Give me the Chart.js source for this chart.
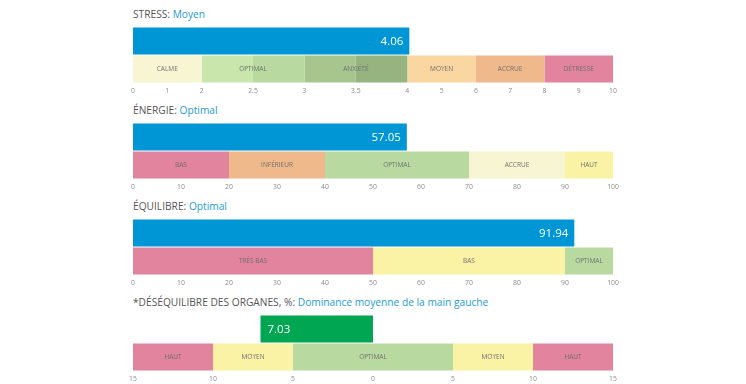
<!DOCTYPE html>
<html>
<head>
<meta charset="utf-8">
<script src="https://cdn.jsdelivr.net/npm/chart.js@4"></script>
<style>
body { margin: 0; background: #fff; font-family: 'Open Sans', sans-serif; }
.panel { position: absolute; left: 0; width: 746px; height: 96px; }
.title { position: absolute; left: 133px; top: 6px; font-size: 10.2px; line-height: 16px; color: #555; white-space: nowrap; }
.title span { color: #1d9ad6; }
canvas { position: absolute; left: 0; top: 22px; }
</style>
</head>
<body>
<div class="panel" style="top:0px"><div class="title">STRESS: <span>Moyen</span></div><canvas id="stress" width="746" height="74"></canvas></div>
<div class="panel" style="top:96px"><div class="title">ÉNERGIE: <span>Optimal</span></div><canvas id="energy" width="746" height="74"></canvas></div>
<div class="panel" style="top:192px"><div class="title">ÉQUILIBRE: <span>Optimal</span></div><canvas id="balance" width="746" height="74"></canvas></div>
<div class="panel" style="top:288px"><div class="title">*DÉSÉQUILIBRE DES ORGANES, %: <span>Dominance moyenne de la main gauche</span></div><canvas id="organs" width="746" height="74"></canvas></div>
<script>
const PINK = '#e2849d';
const PEACH = '#f0b98b';
const GREEN = '#b8d9a0';
const CREAM = '#f8f6d2';
const YELLOW = '#faf3a6';

// stress
const stressValue = 4.06;
const stressTicks = [0, 1, 2, 2.5, 3, 3.5, 4, 5, 6, 7, 8, 9, 10];
const stressZones = ['CALME', 'OPTIMAL', 'ANXIÉTÉ', 'MOYEN', 'ACCRUE', 'DÉTRESSE'];
const stressZoneEdges = [0, 2, 3, 4, 6, 8, 10];
const stressFillEdges = [0, 2, 2.5, 3, 3.5, 4, 6, 8, 10];
const stressFillColors = [CREAM, '#c9e6ad', GREEN, '#a7c68e', '#95b47f', '#fad7a1', PEACH, PINK];

// energie
const energyValue = 57.05;
const energyTicks = [0, 10, 20, 30, 40, 50, 60, 70, 80, 90, 100];
const energyZones = ['BAS', 'INFÉRIEUR', 'OPTIMAL', 'ACCRUE', 'HAUT'];
const energyZoneEdges = [0, 20, 40, 70, 90, 100];
const energyColors = [PINK, PEACH, GREEN, CREAM, YELLOW];

// equilibre
const balanceValue = 91.94;
const balanceTicks = [0, 10, 20, 30, 40, 50, 60, 70, 80, 90, 100];
const balanceZones = ['TRÈS BAS', 'BAS', 'OPTIMAL'];
const balanceZoneEdges = [0, 50, 90, 100];
const balanceColors = [PINK, YELLOW, GREEN];

// desequilibre des organes (negatif = main gauche)
const organValue = -7.03;
const organTicks = [-15, -10, -5, 0, 5, 10, 15];
const organZones = ['HAUT', 'MOYEN', 'OPTIMAL', 'MOYEN', 'HAUT'];
const organZoneEdges = [-15, -10, -5, 5, 10, 15];
const organColors = [PINK, YELLOW, GREEN, YELLOW, PINK];

// stress axis is stretched between 2 and 4
function stressPos(v) {
	if (v <= 2) return v;
	if (v <= 4) return 2 + (v - 2) * 3;
	return 8 + (v - 4);
}
const same = v => v;

function makeChart(id, cfg) {
	const pos = cfg.pos || same;
	const fillEdges = cfg.fillEdges || cfg.zoneEdges;
	const datasets = [{
		data: [[pos(Math.min(0, cfg.value)), pos(Math.max(0, cfg.value))], null],
		backgroundColor: cfg.barColor
	}];
	cfg.colors.forEach((color, i) => {
		datasets.push({
			data: [null, [pos(fillEdges[i]), pos(fillEdges[i + 1])]],
			backgroundColor: color
		});
	});

	const labelPlugin = {
		id: 'zoneLabels',
		afterDatasetsDraw(chart) {
			const ctx = chart.ctx;
			const x = chart.scales.x;
			const band = chart.getDatasetMeta(1).data[1];
			const bar = chart.getDatasetMeta(0).data[0];
			ctx.save();
			ctx.font = '6.5px "Open Sans"';
			ctx.fillStyle = '#6f6f6f';
			ctx.textAlign = 'center';
			ctx.textBaseline = 'middle';
			cfg.zones.forEach((z, i) => {
				const mid = (pos(cfg.zoneEdges[i]) + pos(cfg.zoneEdges[i + 1])) / 2;
				ctx.fillText(z, x.getPixelForValue(mid), band.y);
			});
			ctx.font = '11.5px "Open Sans"';
			ctx.fillStyle = '#fff';
			const text = Math.abs(cfg.value).toFixed(2);
			if (cfg.value < 0) {
				ctx.textAlign = 'left';
				ctx.fillText(text, x.getPixelForValue(pos(cfg.value)) + 7, bar.y + 1);
			} else {
				ctx.textAlign = 'right';
				ctx.fillText(text, x.getPixelForValue(pos(cfg.value)) - 6, bar.y + 1);
			}
			ctx.restore();
		}
	};

	return new Chart(document.getElementById(id), {
		type: 'bar',
		data: { labels: ['valeur', 'zones'], datasets: datasets },
		options: {
			indexAxis: 'y',
			responsive: false,
			animation: false,
			devicePixelRatio: 1,
			layout: { padding: { left: 133, right: 133, top: 5, bottom: 0 } },
			datasets: { bar: { grouped: false, barPercentage: 0.97, categoryPercentage: 1, borderWidth: 0 } },
			plugins: { legend: { display: false }, tooltip: { enabled: false } },
			scales: {
				y: { display: false },
				x: {
					type: 'linear',
					min: pos(cfg.ticks[0]),
					max: pos(cfg.ticks[cfg.ticks.length - 1]),
					grid: { display: false, drawTicks: false },
					border: { display: false },
					afterBuildTicks: s => { s.ticks = cfg.ticks.map(v => ({ value: pos(v) })); },
					afterFit: s => { s.height = 13; },
					ticks: {
						autoSkip: false,
						maxRotation: 0,
						padding: 4,
						color: '#8a8a8a',
						font: { family: 'Open Sans', size: 6.8 },
						callback: (val, i) => String(Math.abs(cfg.ticks[i]))
					}
				}
			}
		},
		plugins: [labelPlugin]
	});
}

makeChart('stress', {
	value: stressValue, ticks: stressTicks, zones: stressZones, zoneEdges: stressZoneEdges,
	fillEdges: stressFillEdges, colors: stressFillColors, pos: stressPos, barColor: '#0096d6'
});
makeChart('energy', {
	value: energyValue, ticks: energyTicks, zones: energyZones, zoneEdges: energyZoneEdges,
	colors: energyColors, barColor: '#0096d6'
});
makeChart('balance', {
	value: balanceValue, ticks: balanceTicks, zones: balanceZones, zoneEdges: balanceZoneEdges,
	colors: balanceColors, barColor: '#0096d6'
});
makeChart('organs', {
	value: organValue, ticks: organTicks, zones: organZones, zoneEdges: organZoneEdges,
	colors: organColors, barColor: '#00a651'
});
</script>
</body>
</html>
